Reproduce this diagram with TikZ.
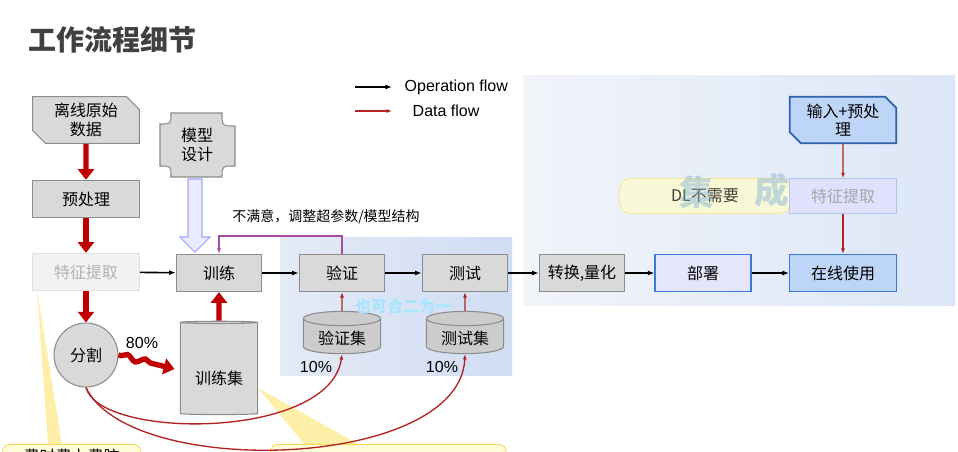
\documentclass[tikz,border=0pt]{standalone}
\usepackage{fontspec}
\setmainfont{Liberation Sans}
\newfontfamily\cjk{Noto Sans CJK SC}
\usetikzlibrary{shapes.geometric,shapes.misc,arrows.meta,decorations.pathmorphing,shadings}
\definecolor{boxg}{HTML}{D9D9D9}
\definecolor{bord}{HTML}{8C8C8C}
\definecolor{dred}{HTML}{C00000}
\definecolor{tred}{HTML}{B22222}
\definecolor{bluef}{HTML}{BDD5F7}
\definecolor{blueb}{HTML}{3C78D8}
\definecolor{pl}{HTML}{F1F4F9}
\definecolor{pr}{HTML}{DCE6F7}
\definecolor{ml}{HTML}{E4EAF6}
\definecolor{mr}{HTML}{D0DDF3}
\definecolor{wm}{HTML}{7FAFD6}
\begin{document}
\begin{tikzpicture}[x=0.75pt,y=-0.75pt,
  box/.style={draw=bord,fill=boxg,line width=0.8pt,minimum width=64pt,minimum height=28pt,font=\cjk\fontsize{12}{14}\selectfont,align=center,inner sep=1pt},
  op/.style={-{Latex[length=5pt]},line width=1.2pt,black},
  thick red/.style={-{Triangle[length=8pt,width=12pt]},line width=4pt,dred},
  thin red/.style={-{Latex[length=4pt]},line width=1pt,tred},
  cyl/.style={cylinder,shape border rotate=90,draw=bord,fill=boxg,aspect=0.25,font=\cjk\fontsize{12}{14}\selectfont,line width=0.8pt}]
\useasboundingbox (0,0) rectangle (958,451);
\clip (0,0) rectangle (958,451);
\fill[white] (0,0) rectangle (958,451);
% panels
\shade[left color=pl,right color=pr] (523,75) rectangle (955,305);
\shade[left color=ml,right color=mr] (280,237) rectangle (512,375);
% title
\node[anchor=west,font=\cjk\bfseries\fontsize{21}{24}\selectfont,text=black!75] (title) at (24,40) {工作流程细节};
% legend
\coordinate (l1a) at (355,87); \coordinate (l1b) at (392,87);
\coordinate (l2a) at (355,111); \coordinate (l2b) at (392,111);
\draw[op] (l1a) -- (l1b);
\draw[-{Latex[length=4pt]},line width=1pt,tred] (l2a) -- (l2b);
\node[anchor=west,font=\fontsize{12}{14}\selectfont] (lg1) at (400,87) {Operation flow};
\node[anchor=west,font=\fontsize{12}{14}\selectfont] (lg2) at (408,111) {Data flow};
% callout lines (yellow)
\fill[yellow!70!orange,opacity=0.35] (37,290) -- (48,445) -- (62,445) -- cycle;
\fill[yellow!70!orange,opacity=0.35] (258,388) -- (305,445) -- (360,445) -- cycle;
\node[draw=yellow!60!orange,fill=yellow!15,rounded corners=6pt,minimum width=104pt,minimum height=30pt,anchor=north west,font=\cjk\fontsize{12}{14}\selectfont,text=black,text depth=14pt] (cb1) at (2,444) {费时费力费脑};
\node[draw=yellow!60!orange,fill=yellow!15,rounded corners=6pt,minimum width=177pt,minimum height=30pt,anchor=north west] (cb2) at (270,444) {};
% left column
\node[box,chamfered rectangle,chamfered rectangle corners={north east,south west},chamfered rectangle xsep=6pt,minimum width=80pt,minimum height=35pt] (raw) at (86,120) {离线原始\\数据};
\node[box,minimum width=80pt] (pre) at (86,199) {预处理};
\node[box,minimum width=80pt,fill=black!5,draw=black!12,text=black!30] (fe) at (86,272) {特征提取};
\node[circle,draw=bord,fill=boxg,minimum size=48pt,line width=0.8pt,font=\cjk\fontsize{12}{14}\selectfont] (split) at (86,355) {分割};
% model design plaque
\draw[bord,fill=boxg,line width=0.8pt] (171,113) -- (222,113) .. controls (222,126) .. (235,126) -- (235,166) .. controls (222,166) .. (222,177) -- (171,177) .. controls (171,166) .. (160,166) -- (160,124) .. controls (171,124) .. cycle;
\node[font=\cjk\fontsize{12}{14}\selectfont,align=center] (mdl) at (197,145) {模型\\设计};
% main row
\node[box] (train) at (219,273) {训练};
\node[box] (val) at (342,273) {验证};
\node[box] (test) at (465,273) {测试};
\node[box] (conv) at (582,273) {转换,量化};
\node[box,draw=blueb,fill=black!12!blue!10,minimum width=72pt] (dep) at (703,273) {部署};
\node[box,draw=blueb,fill=bluef,minimum width=80pt] (online) at (843,273) {在线使用};
\node[box,draw=blueb!80!black,fill=bluef,line width=1.3pt,minimum width=80pt,minimum height=35pt,chamfered rectangle,chamfered rectangle corners={north east,south west},chamfered rectangle xsep=5pt] (inp) at (843,120) {输入+预处\\理};
\node[draw=yellow!70!orange!60,fill=yellow!20,rounded corners=8pt,minimum width=128pt,minimum height=26pt,font=\cjk\fontsize{12}{14}\selectfont,fill opacity=0.75] (dl) at (705,196) {DL不需要\hspace{30pt}};
\node[box,draw=blueb!40,fill=blue!12,text=black!35,minimum width=80pt,minimum height=26pt] (fe2) at (843,196) {特征提取};
\node[font=\cjk\bfseries\fontsize{26}{28}\selectfont,text=wm,opacity=0.45] (w1) at (697,192) {集};
\node[font=\cjk\bfseries\fontsize{26}{28}\selectfont,text=wm,opacity=0.45] (w2) at (772,190) {成};
% cylinders
\node[cyl,minimum width=58pt,minimum height=70pt] (tset) at (219,369) {};
\node[font=\cjk\fontsize{12}{14}\selectfont] (tsetl) at (219,378) {训练集};
\node[cyl,minimum width=58pt,minimum height=24pt,fill=black!20] (vset) at (342,338) {验证集};
\node[cyl,minimum width=58pt,minimum height=24pt,fill=black!20] (teset) at (465,338) {测试集};
\node[font=\fontsize{12}{14}\selectfont] (p80) at (142,343) {80\%};
\node[font=\fontsize{12}{14}\selectfont] (p10a) at (316,367) {10\%};
\node[font=\fontsize{12}{14}\selectfont] (p10b) at (442,367) {10\%};
\node[font=\cjk\bfseries\fontsize{12}{14}\selectfont,text=blue!30!cyan!35] (merge) at (403,306) {也可合二为一};
% operation flow
\draw[op] (fe) -- (train);
\draw[op] (train) -- (val);
\draw[op] (val) -- (test);
\draw[op] (test) -- (conv);
\draw[op] (conv) -- (dep);
\draw[op] (dep) -- (online);
% feedback
\draw[violet!70,line width=1.3pt,-{Latex[length=4pt]}] (val.north) -- ++(0,-18) -| (train.north);
\node[font=\cjk\fontsize{10.5}{12}\selectfont] (fbl) at (326,217) {不满意，调整超参数/模型结构};
% hollow arrow
\draw[blue!35,fill=blue!8,line width=0.8pt] (188,179) -- (202,179) -- (202,237) -- (210,237) -- (195,252) -- (180,237) -- (188,237) -- cycle;
% data flow
\draw[thick red] (raw) -- (pre);
\draw[thick red] (pre) -- (fe);
\draw[thick red] (fe) -- (split);
\draw[thick red] (tset.north) -- (train);
\draw[thick red,decorate,decoration={snake,amplitude=2pt,segment length=14pt,pre length=2pt,post length=12pt}] (split.east) -- ([xshift=-4pt]tset.west);
\draw[thin red] (vset) -- (val);
\draw[thin red] (teset) -- (test);
\draw[thin red] (inp) -- (fe2);
\draw[thin red] (fe2) -- (online);
\draw[thin red] (split.south) .. controls (100,440) and (330,440) .. (vset.south);
\draw[thin red] (split.south) .. controls (130,480) and (460,470) .. (teset.south);
\end{tikzpicture}
\end{document}
